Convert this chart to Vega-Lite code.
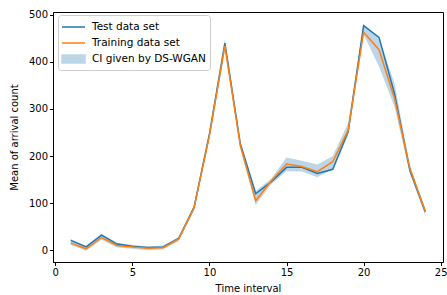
{
  "$schema": "https://vega.github.io/schema/vega-lite/v6.json",
  "width": 390,
  "height": 250,
  "autosize": {"type": "none"},
  "padding": {"left": 53, "top": 12, "right": 4, "bottom": 33},
  "background": "white",
  "config": {
    "font": "DejaVu Sans",
    "view": {"stroke": "black", "strokeWidth": 1},
    "axis": {
      "grid": false,
      "domainColor": "black",
      "tickColor": "black",
      "labelColor": "black",
      "titleColor": "black",
      "labelFontSize": 10,
      "titleFontSize": 10,
      "titleFontWeight": "normal",
      "tickSize": 3.5,
      "labelPadding": 2
    },
    "legend": {
      "orient": "none",
      "legendX": 5,
      "legendY": 3,
      "padding": 4,
      "fillColor": "white",
      "strokeColor": "#cccccc",
      "cornerRadius": 3,
      "labelFontSize": 10.5,
      "labelColor": "black",
      "labelOffset": 10.5,
      "symbolOffset": 3.5,
      "rowPadding": 2,
      "symbolSize": 196,
      "symbolStrokeWidth": 1.5
    }
  },
  "datasets": {
    "lines": [
      {"t": 1, "series": "Test data set", "value": 21},
      {"t": 2, "series": "Test data set", "value": 7},
      {"t": 3, "series": "Test data set", "value": 32},
      {"t": 4, "series": "Test data set", "value": 13},
      {"t": 5, "series": "Test data set", "value": 8.5},
      {"t": 6, "series": "Test data set", "value": 5.7},
      {"t": 7, "series": "Test data set", "value": 7},
      {"t": 8, "series": "Test data set", "value": 25},
      {"t": 9, "series": "Test data set", "value": 91},
      {"t": 10, "series": "Test data set", "value": 247},
      {"t": 11, "series": "Test data set", "value": 440},
      {"t": 12, "series": "Test data set", "value": 226},
      {"t": 13, "series": "Test data set", "value": 120},
      {"t": 14, "series": "Test data set", "value": 145},
      {"t": 15, "series": "Test data set", "value": 176},
      {"t": 16, "series": "Test data set", "value": 176},
      {"t": 17, "series": "Test data set", "value": 163},
      {"t": 18, "series": "Test data set", "value": 172},
      {"t": 19, "series": "Test data set", "value": 252},
      {"t": 20, "series": "Test data set", "value": 477},
      {"t": 21, "series": "Test data set", "value": 452},
      {"t": 22, "series": "Test data set", "value": 333},
      {"t": 23, "series": "Test data set", "value": 170},
      {"t": 24, "series": "Test data set", "value": 82},
      {"t": 1, "series": "Training data set", "value": 15},
      {"t": 2, "series": "Training data set", "value": 3},
      {"t": 3, "series": "Training data set", "value": 27},
      {"t": 4, "series": "Training data set", "value": 10},
      {"t": 5, "series": "Training data set", "value": 7},
      {"t": 6, "series": "Training data set", "value": 4},
      {"t": 7, "series": "Training data set", "value": 5.5},
      {"t": 8, "series": "Training data set", "value": 24},
      {"t": 9, "series": "Training data set", "value": 90},
      {"t": 10, "series": "Training data set", "value": 244},
      {"t": 11, "series": "Training data set", "value": 434},
      {"t": 12, "series": "Training data set", "value": 223},
      {"t": 13, "series": "Training data set", "value": 105},
      {"t": 14, "series": "Training data set", "value": 147},
      {"t": 15, "series": "Training data set", "value": 183},
      {"t": 16, "series": "Training data set", "value": 178},
      {"t": 17, "series": "Training data set", "value": 167},
      {"t": 18, "series": "Training data set", "value": 188},
      {"t": 19, "series": "Training data set", "value": 255},
      {"t": 20, "series": "Training data set", "value": 463},
      {"t": 21, "series": "Training data set", "value": 426},
      {"t": 22, "series": "Training data set", "value": 323},
      {"t": 23, "series": "Training data set", "value": 174},
      {"t": 24, "series": "Training data set", "value": 83}
    ],
    "band": [
      {"t": 1, "series": "CI given by DS-WGAN", "lo": 11, "hi": 24},
      {"t": 2, "series": "CI given by DS-WGAN", "lo": -1, "hi": 9},
      {"t": 3, "series": "CI given by DS-WGAN", "lo": 22, "hi": 35},
      {"t": 4, "series": "CI given by DS-WGAN", "lo": 6, "hi": 16},
      {"t": 5, "series": "CI given by DS-WGAN", "lo": 3, "hi": 11},
      {"t": 6, "series": "CI given by DS-WGAN", "lo": 0, "hi": 8},
      {"t": 7, "series": "CI given by DS-WGAN", "lo": 2, "hi": 10},
      {"t": 8, "series": "CI given by DS-WGAN", "lo": 19, "hi": 28},
      {"t": 9, "series": "CI given by DS-WGAN", "lo": 84, "hi": 96},
      {"t": 10, "series": "CI given by DS-WGAN", "lo": 237, "hi": 252},
      {"t": 11, "series": "CI given by DS-WGAN", "lo": 425, "hi": 448},
      {"t": 12, "series": "CI given by DS-WGAN", "lo": 216, "hi": 232},
      {"t": 13, "series": "CI given by DS-WGAN", "lo": 96, "hi": 126},
      {"t": 14, "series": "CI given by DS-WGAN", "lo": 140, "hi": 152},
      {"t": 15, "series": "CI given by DS-WGAN", "lo": 168, "hi": 197},
      {"t": 16, "series": "CI given by DS-WGAN", "lo": 167, "hi": 190},
      {"t": 17, "series": "CI given by DS-WGAN", "lo": 155, "hi": 182},
      {"t": 18, "series": "CI given by DS-WGAN", "lo": 172, "hi": 200},
      {"t": 19, "series": "CI given by DS-WGAN", "lo": 245, "hi": 270},
      {"t": 20, "series": "CI given by DS-WGAN", "lo": 458, "hi": 480},
      {"t": 21, "series": "CI given by DS-WGAN", "lo": 390, "hi": 450},
      {"t": 22, "series": "CI given by DS-WGAN", "lo": 305, "hi": 355},
      {"t": 23, "series": "CI given by DS-WGAN", "lo": 163, "hi": 180},
      {"t": 24, "series": "CI given by DS-WGAN", "lo": 74, "hi": 88}
    ]
  },
  "encoding": {
    "x": {
      "field": "t",
      "type": "quantitative",
      "scale": {"domain": [-0.15, 25.15], "nice": false, "zero": false},
      "axis": {"values": [0, 5, 10, 15, 20, 25], "title": "Time interval", "titlePadding": 6}
    },
    "color": {
      "field": "series",
      "type": "nominal",
      "scale": {
        "domain": ["Test data set", "Training data set", "CI given by DS-WGAN"],
        "range": ["#1f77b4", "#ff7f0e", "#bcd6e8"]
      },
      "legend": {
        "title": null,
        "symbolType": "M-1.643,0H1.643",
        "encode": {
          "symbols": {
            "update": {
              "shape": {"signal": "datum.value === 'CI given by DS-WGAN' ? 'M-1.643,-0.571H1.643V0.571H-1.643Z' : 'M-1.643,0H1.643'"},
              "size": {"value": 196},
              "fill": {"signal": "datum.value === 'CI given by DS-WGAN' ? '#bcd6e8' : 'transparent'"},
              "stroke": {"signal": "datum.value === 'CI given by DS-WGAN' ? 'transparent' : (datum.value === 'Test data set' ? '#1f77b4' : '#ff7f0e')"},
              "strokeWidth": {"value": 1.5},
              "opacity": {"value": 1}
            }
          }
        }
      }
    }
  },
  "layer": [
    {
      "data": {"name": "band"},
      "mark": {"type": "area", "opacity": 1},
      "encoding": {
        "y": {
          "field": "lo",
          "type": "quantitative",
          "scale": {"domain": [-25, 506], "nice": false, "zero": false},
          "axis": {"values": [0, 100, 200, 300, 400, 500], "title": "Mean of arrival count", "titlePadding": 9}
        },
        "y2": {"field": "hi"}
      }
    },
    {
      "data": {"name": "lines"},
      "mark": {"type": "line", "strokeWidth": 1.5},
      "encoding": {
        "y": {"field": "value", "type": "quantitative"}
      }
    }
  ]
}
